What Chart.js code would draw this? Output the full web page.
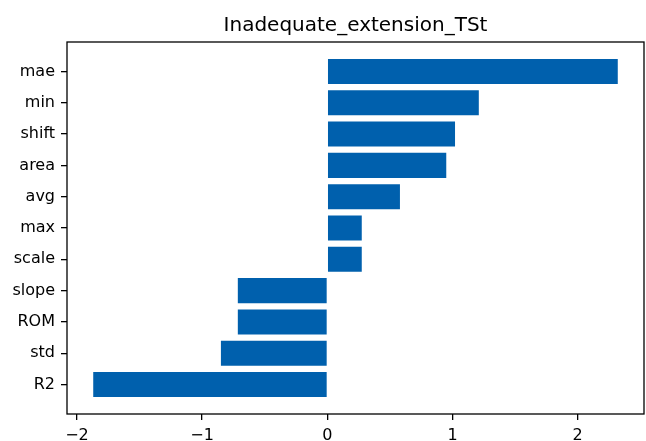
<!DOCTYPE html>
<html>
<head>
<meta charset="utf-8">
<script src="https://cdn.jsdelivr.net/npm/chart.js@4/dist/chart.umd.min.js"></script>
<style>
  html, body { margin: 0; padding: 0; background: #fff; }
  #wrap { width: 646px; height: 441px; }
</style>
</head>
<body>
<div id="wrap"><canvas id="barh"></canvas></div>
<script>
// categories from bottom to top, as matplotlib barh lays them out
const features = ['R2', 'std', 'ROM', 'slope', 'scale', 'max', 'avg', 'area', 'shift', 'min', 'mae'];
const importance = [-1.87, -0.85, -0.715, -0.715, 0.275, 0.275, 0.58, 0.95, 1.02, 1.21, 2.32];
const xTicks = [-2, -1, 0, 1, 2];
const chartTitle = 'Inadequate_extension_TSt';

// matplotlib style 5% margins
const lo = Math.min(0, ...importance), hi = Math.max(0, ...importance);
const xPad = (hi - lo) * 0.05;
const yPad = (features.length - 1 + 0.8) * 0.05;

const FONT = 'DejaVu Sans';

// frame around the plot area + title centred over the axes
const framePlugin = {
  id: 'frame',
  afterDraw(chart) {
    const { ctx, chartArea: a } = chart;
    ctx.save();
    ctx.strokeStyle = '#000';
    ctx.lineWidth = 1.3;
    ctx.strokeRect(a.left, a.top, a.right - a.left, a.bottom - a.top);
    ctx.fillStyle = '#000';
    ctx.font = '20px "' + FONT + '"';
    ctx.textAlign = 'center';
    ctx.textBaseline = 'alphabetic';
    ctx.fillText(chartTitle, (a.left + a.right) / 2, a.top - 11);
    ctx.restore();
  }
};

new Chart(document.getElementById('barh'), {
  type: 'bar',
  data: {
    datasets: [{
      data: features.map((f, i) => ({ x: importance[i], y: i })),
      backgroundColor: '#0060ad',
      borderWidth: 0,
      barPercentage: 0.8,
      categoryPercentage: 1.0
    }]
  },
  options: {
    indexAxis: 'y',
    responsive: true,
    maintainAspectRatio: false,
    animation: false,
    layout: { padding: { top: 42, right: 2, left: 0, bottom: 0 } },
    plugins: {
      legend: { display: false },
      title: { display: false },
      tooltip: { enabled: false }
    },
    scales: {
      x: {
        type: 'linear',
        min: lo - xPad,
        max: hi + xPad,
        afterBuildTicks: axis => { axis.ticks = xTicks.map(v => ({ value: v })); },
        afterFit: axis => { axis.height = 27; },
        border: { display: false },
        grid: { drawOnChartArea: false, drawTicks: true, tickLength: 6, color: '#000', lineWidth: 1.3 },
        ticks: {
          color: '#000',
          padding: 6,
          maxRotation: 0,
          font: { family: FONT, size: 16 },
          callback: v => v < 0 ? '\u2212' + Math.abs(v) : String(v)
        }
      },
      y: {
        type: 'linear',
        offset: false,
        min: -0.4 - yPad,
        max: features.length - 1 + 0.4 + yPad,
        afterBuildTicks: axis => { axis.ticks = features.map((f, i) => ({ value: i })); },
        afterFit: axis => { axis.width = 67; },
        border: { display: false },
        grid: { offset: false, drawOnChartArea: false, drawTicks: true, tickLength: 6, color: '#000', lineWidth: 1.3 },
        ticks: {
          color: '#000',
          padding: 6,
          font: { family: FONT, size: 16 },
          callback: v => features[v]
        }
      }
    }
  },
  plugins: [framePlugin]
});
</script>
</body>
</html>
